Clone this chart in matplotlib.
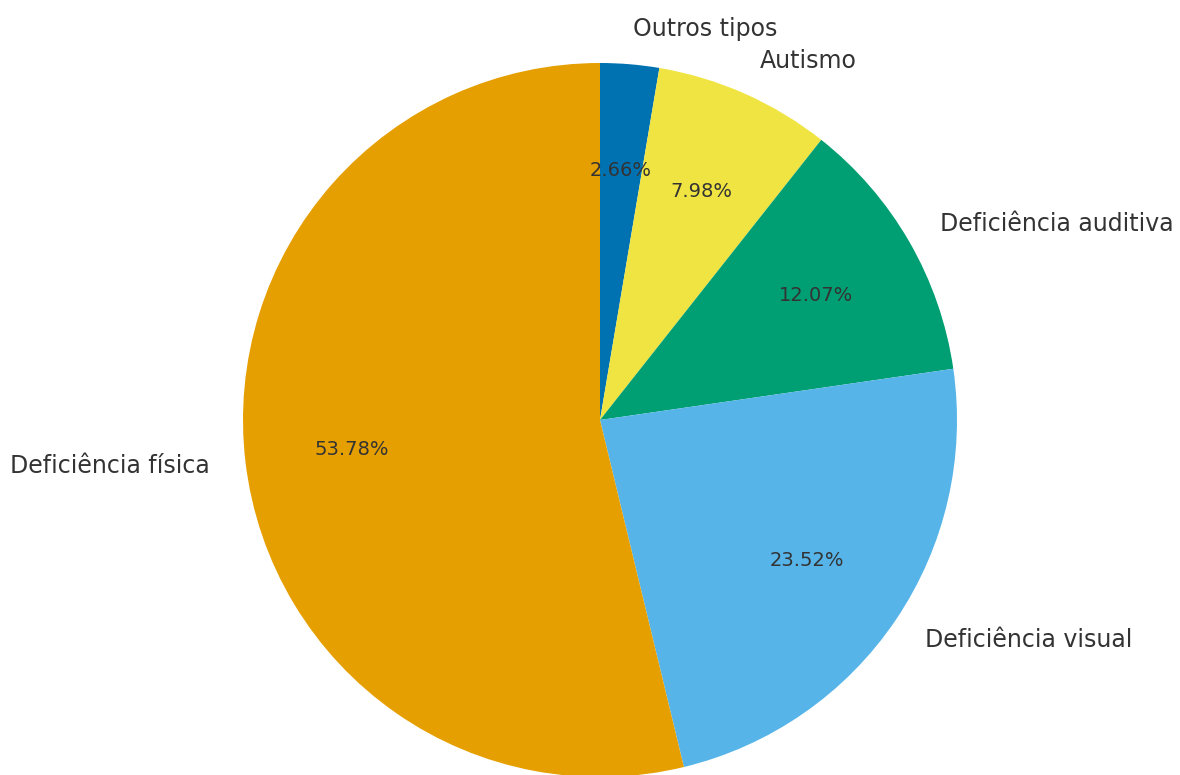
import matplotlib
matplotlib.use("Agg")
import matplotlib.pyplot as plt

# Distribution of disability types
categories = ["Outros tipos", "Autismo", "Deficiência auditiva",
              "Deficiência visual", "Deficiência física"]
shares = [2.66, 7.98, 12.07, 23.52, 53.78]
colors = ["#0072B2", "#F0E442", "#009E73", "#56B4E9", "#E69F00"]

total = sum(shares)

W, H, DPI = 1180, 775, 100
fig = plt.figure(figsize=(W / DPI, H / DPI), dpi=DPI)
ax = fig.add_axes([0, 0, 1, 1])

wedges, texts, autotexts = ax.pie(
    shares,
    labels=categories,
    colors=colors,
    startangle=90,
    counterclock=False,
    autopct=lambda p: f"{p * total / 100:.2f}%",
    pctdistance=0.7,
    labeldistance=1.1,
    textprops={"color": "#333333"},
)
for t in texts:
    t.set_fontsize(17)
for t in autotexts:
    t.set_fontsize(14)

# place the pie: centre at (600, 420) px, radius 357 px
cx, cy, r = 600, 420, 357
ax.set_aspect("auto")
ax.set_xlim(-cx / r, (W - cx) / r)
ax.set_ylim(-(H - cy) / r, cy / r)
ax.axis("off")

fig.savefig("out.png", dpi=DPI)
